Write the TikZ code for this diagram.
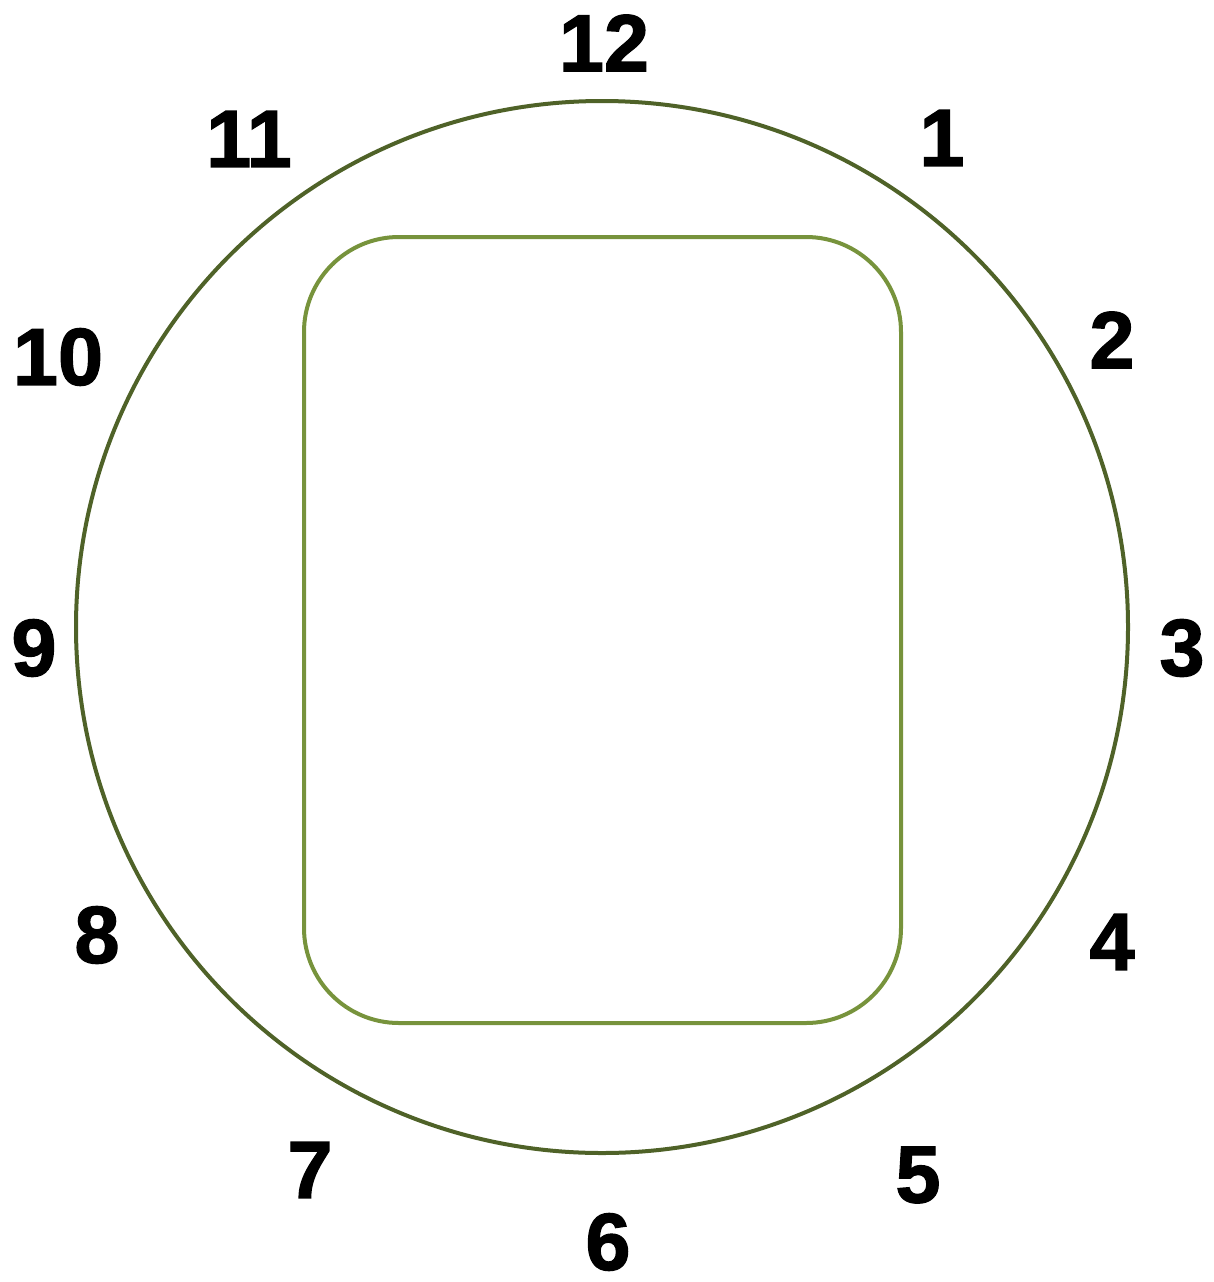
\documentclass[tikz,border=0pt]{standalone}
\usepackage{fontspec}
\setmainfont{Liberation Sans}
\newfontfamily\numfont[FakeBold=1.6]{Liberation Sans Bold}
\definecolor{ringgreen}{HTML}{4F6228}
\definecolor{boxgreen}{HTML}{77933C}
\begin{document}
\begin{tikzpicture}[x=1pt,y=-1pt,
  num/.style={font=\fontsize{81}{81}\selectfont\numfont, inner sep=0pt, anchor=center},
  ring/.style={draw=ringgreen, line width=4pt},
  inner box/.style={draw=boxgreen, line width=4pt, rounded corners=95pt}]
\useasboundingbox (0,0) rectangle (1214,1282);
\node[ring, circle, minimum size=1052pt, inner sep=0pt] (dial) at (602,627) {};
\draw[inner box] (304,237) rectangle (901,1023);
\node[num] (n12) at (604,43) {12};
\node[num] (n1) at (942,138) {1};
\node[num] (n2) at (1112,340) {2};
\node[num] (n3) at (1182,648) {3};
\node[num] (n4) at (1112,942) {4};
\node[num] (n5) at (918,1175) {5};
\node[num] (n6) at (608,1242) {6};
\node[num] (n7) at (310,1170) {7};
\node[num] (n8) at (97,935) {8};
\node[num] (n9) at (34,648) {9};
\node[num] (n10) at (58,357) {10};
\node[num] (n11) at (249,139) {11};
\end{tikzpicture}
\end{document}
